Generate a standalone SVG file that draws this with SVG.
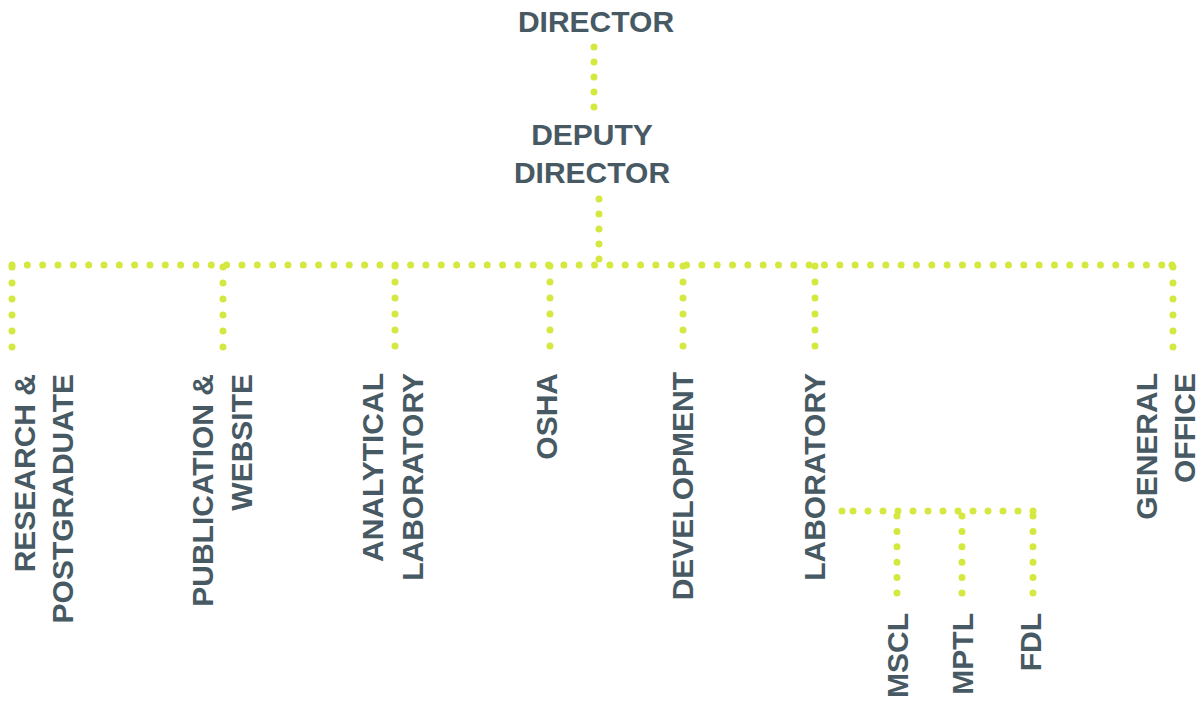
<svg xmlns="http://www.w3.org/2000/svg" width="1204" height="709" viewBox="0 0 1204 709">
  <style>
    .lbl { font-family: "Liberation Sans", Arial, sans-serif; font-weight: bold; font-size: 30px; fill: #475963; }
    .v { text-anchor: end; }
    .h { text-anchor: middle; }
    .dots { fill: none; stroke: #d5e840; stroke-width: 7; stroke-linecap: round; }
    .dot { fill: #d5e840; }
  </style>
  <rect width="1204" height="709" fill="#ffffff"/>

  <!-- dotted connectors: zero-length dashes with round caps give the dots -->
  <g id="connectors">
    <path class="dots" d="M594 47 V107.5" stroke-dasharray="0 15"/>
    <path class="dots" d="M599 199 V259.5" stroke-dasharray="0 15"/>
    <path class="dots" d="M12 265 H1162.5" stroke-dasharray="0 15.33"/>
    <circle class="dot" cx="1172" cy="265" r="3.5"/>
    <path class="dots" d="M12 267 V347.5" stroke-dasharray="0 16"/>
    <path class="dots" d="M223 267 V347.5" stroke-dasharray="0 16"/>
    <path class="dots" d="M395 266 V346.5" stroke-dasharray="0 16"/>
    <path class="dots" d="M550 266 V346.5" stroke-dasharray="0 16"/>
    <path class="dots" d="M683 266 V346.5" stroke-dasharray="0 16"/>
    <path class="dots" d="M815 266 V346.5" stroke-dasharray="0 16"/>
    <path class="dots" d="M1173 267 V347.5" stroke-dasharray="0 16"/>
    <circle class="dot" cx="842" cy="511" r="3.5"/>
    <path class="dots" d="M853 511 H1033.5" stroke-dasharray="0 15"/>
    <path class="dots" d="M897 516 V593.5" stroke-dasharray="0 15.4"/>
    <path class="dots" d="M962 516 V593.5" stroke-dasharray="0 15.4"/>
    <path class="dots" d="M1033 516 V593.5" stroke-dasharray="0 15.4"/>
  </g>

  <g id="director">
    <text class="lbl h" x="596" y="32">DIRECTOR</text>
  </g>
  <g id="deputy-director">
    <text class="lbl h" x="592" y="145">DEPUTY</text>
    <text class="lbl h" x="592" y="183">DIRECTOR</text>
  </g>

  <g id="research-postgraduate">
    <text class="lbl v" transform="translate(35 374) rotate(-90)">RESEARCH &amp;</text>
    <text class="lbl v" transform="translate(73 374) rotate(-90)">POSTGRADUATE</text>
  </g>
  <g id="publication-website">
    <text class="lbl v" transform="translate(213 374) rotate(-90)">PUBLICATION &amp;</text>
    <text class="lbl v" transform="translate(252 374) rotate(-90)">WEBSITE</text>
  </g>
  <g id="analytical-laboratory">
    <text class="lbl v" transform="translate(383 373) rotate(-90)">ANALYTICAL</text>
    <text class="lbl v" transform="translate(423 373) rotate(-90)">LABORATORY</text>
  </g>
  <g id="osha">
    <text class="lbl v" transform="translate(557 373) rotate(-90)">OSHA</text>
  </g>
  <g id="development">
    <text class="lbl v" transform="translate(693 372) rotate(-90)">DEVELOPMENT</text>
  </g>
  <g id="laboratory">
    <text class="lbl v" transform="translate(825 373) rotate(-90)">LABORATORY</text>
  </g>
  <g id="general-office">
    <text class="lbl v" transform="translate(1157 373) rotate(-90)">GENERAL</text>
    <text class="lbl v" transform="translate(1195 373) rotate(-90)">OFFICE</text>
  </g>

  <g id="mscl">
    <text class="lbl v" transform="translate(908 613) rotate(-90)">MSCL</text>
  </g>
  <g id="mptl">
    <text class="lbl v" transform="translate(973 613) rotate(-90)">MPTL</text>
  </g>
  <g id="fdl">
    <text class="lbl v" transform="translate(1041 613) rotate(-90)">FDL</text>
  </g>
</svg>
